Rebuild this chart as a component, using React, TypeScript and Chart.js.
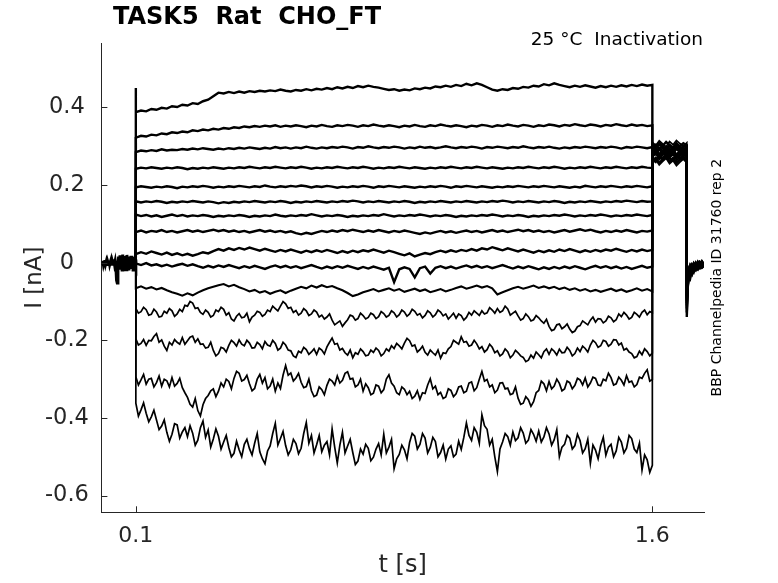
import { useEffect, useRef } from "react"
import { Chart, registerables, type Plugin } from "chart.js"

Chart.register(...registerables)

// sampling grids (s)
const baselineTimes = Array.from({ length: 51 }, (_, i) => i * 0.002)
const stepTimes = Array.from({ length: 101 }, (_, i) => 0.1 + i * 0.015)
const midTimes = Array.from({ length: 100 }, (_, i) => 0.1075 + i * 0.015)
const tailTimes = [1.6, 1.61, 1.62, 1.63, 1.64, 1.65, 1.66, 1.67, 1.68, 1.69, 1.7]
const postTimes = [1.7, 1.703, 1.706, 1.71, 1.715, 1.72, 1.726, 1.732, 1.738, 1.744, 1.75]

const xTicks = [0.1, 1.6]
const yTicks = [-0.6, -0.4, -0.2, 0, 0.2, 0.4]

// all currents in pA
const baseline = [
  2, -3, 5, -6, 1, 7, -4, 3, -8, 4,
  -2, 6, -5, 2, 8, -7, 3, -4, 9, -3,
  5, -9, -45, -52, -12, 16, -14, 19, -17, 13,
  -19, 21, -15, 17, -22, 14, -18, 20, -13, 16,
  -20, 12, -16, 18, -11, 15, -19, 10, -14, 8,
  0,
]

const onsetPeaks = [450, 322, 285, 242, 194, 158, 124, 79, 22, -2, -66, -118, -196, -294, -362]

const sweep1 = [
  388, 392, 390, 396, 394, 399, 397, 403, 401, 407,
  405, 411, 409, 416, 420, 429, 438, 436, 440, 437,
  441, 438, 442, 440, 443, 441, 444, 442, 446, 443,
  441, 445, 443, 447, 444, 448, 446, 450, 447, 452,
  449, 453, 450, 455, 452, 456, 453, 451, 448, 445,
  447, 443, 446, 444, 449, 447, 451, 449, 454, 452,
  456, 453, 458, 455, 461, 457, 462, 458, 452, 446,
  443, 447, 445, 450, 448, 453, 451, 456, 454, 460,
  457, 462, 458, 455, 452, 456, 453, 457, 454, 451,
  455, 452, 456, 453, 457, 454, 458, 455, 459, 456,
  458,
]
const sweep2 = [
  322, 327, 325, 330, 328, 333, 331, 336, 334, 338,
  336, 341, 339, 343, 341, 345, 343, 347, 345, 349,
  347, 351, 349, 352, 350, 353, 351, 354, 350, 353,
  351, 354, 352, 349, 353, 351, 355, 352, 350, 354,
  352, 355, 353, 350, 354, 352, 356, 353, 351, 354,
  352, 349, 353, 351, 355, 352, 350, 354, 352, 356,
  353, 351, 354, 352, 349, 353, 351, 355, 353, 350,
  354, 352, 356, 353, 351, 355, 353, 350, 354, 352,
  356, 354, 351, 355, 353, 357, 354, 352, 356, 354,
  351, 355, 353, 357, 354, 352, 356, 353, 355, 352,
  354,
]
const sweep3 = [
  285, 289, 287, 290, 288, 292, 289, 291, 290, 293,
  291, 294, 292, 295, 293, 291, 294, 292, 295, 293,
  296, 294, 297, 295, 293, 296, 294, 298, 295, 297,
  294, 297, 295, 299, 296, 294, 297, 295, 298, 296,
  299, 297, 294, 298, 296, 300, 297, 295, 298, 296,
  299, 297, 294, 297, 295, 299, 296, 298, 295, 297,
  300, 297, 295, 298, 296, 299, 297, 294, 298, 296,
  299, 297, 295, 298, 296, 300, 297, 295, 298, 296,
  299, 296, 294, 297, 295, 298, 296, 299, 297, 295,
  298, 296, 299, 297, 294, 298, 296, 299, 297, 295,
  298,
]
const sweep4 = [
  242, 245, 243, 246, 244, 242, 245, 243, 246, 244,
  241, 244, 242, 245, 243, 246, 244, 242, 245, 243,
  246, 244, 247, 245, 243, 246, 244, 247, 245, 243,
  246, 244, 247, 245, 242, 245, 243, 246, 244, 247,
  245, 243, 246, 244, 247, 245, 242, 245, 243, 246,
  244, 247, 245, 243, 246, 244, 242, 245, 243, 246,
  244, 247, 245, 243, 246, 244, 247, 245, 243, 246,
  244, 242, 245, 243, 246, 244, 247, 245, 243, 246,
  244, 247, 245, 242, 245, 243, 246, 244, 247, 245,
  243, 246, 244, 247, 245, 243, 246, 244, 247, 245,
  244,
]
const sweep5 = [
  194, 197, 195, 193, 196, 194, 197, 195, 192, 196,
  194, 197, 195, 198, 196, 193, 196, 194, 197, 195,
  198, 196, 194, 197, 195, 199, 196, 194, 197, 195,
  198, 196, 199, 197, 194, 197, 195, 198, 196, 193,
  196, 194, 197, 195, 198, 196, 193, 197, 195, 198,
  196, 194, 197, 195, 193, 196, 194, 197, 195, 198,
  196, 193, 197, 195, 198, 196, 194, 197, 195, 193,
  196, 194, 197, 195, 198, 196, 194, 197, 195, 198,
  196, 194, 197, 195, 193, 196, 194, 198, 196, 194,
  197, 195, 198, 196, 194, 197, 195, 198, 196, 194,
  197,
]
const sweep6 = [
  158, 155, 158, 156, 159, 157, 154, 157, 155, 158,
  156, 159, 157, 155, 158, 156, 153, 156, 154, 157,
  155, 158, 156, 159, 157, 155, 158, 156, 159, 157,
  154, 157, 155, 158, 156, 159, 157, 155, 158, 156,
  159, 157, 160, 158, 155, 158, 156, 159, 157, 155,
  158, 156, 159, 157, 154, 157, 155, 158, 156, 159,
  157, 155, 158, 156, 159, 157, 155, 158, 156, 159,
  157, 160, 158, 155, 158, 156, 159, 157, 155, 158,
  156, 159, 157, 154, 157, 155, 158, 156, 159, 157,
  155, 158, 156, 159, 157, 160, 158, 156, 159, 157,
  158,
]
const sweep7 = [
  124, 120, 123, 119, 122, 118, 121, 124, 120, 123,
  119, 122, 120, 123, 121, 118, 121, 119, 122, 120,
  123, 121, 118, 121, 119, 122, 120, 124, 121, 119,
  122, 120, 123, 121, 125, 122, 119, 122, 120, 123,
  121, 118, 121, 119, 122, 120, 123, 121, 125, 122,
  119, 122, 120, 123, 121, 124, 122, 119, 122, 120,
  123, 121, 118, 121, 119, 122, 120, 123, 121, 124,
  122, 119, 122, 120, 123, 121, 118, 121, 119, 122,
  120, 123, 121, 124, 122, 119, 122, 120, 123, 121,
  124, 122, 119, 122, 120, 123, 121, 124, 122, 120,
  123,
]
const sweep8 = [
  79, 83, 78, 82, 80, 84, 79, 82, 78, 81,
  84, 80, 83, 79, 82, 85, 81, 84, 80, 83,
  79, 82, 78, 81, 84, 80, 83, 79, 82, 78,
  81, 76, 73, 77, 74, 78, 82, 79, 83, 80,
  84, 81, 85, 82, 79, 83, 80, 84, 81, 78,
  82, 79, 83, 80, 77, 74, 78, 75, 79, 82,
  78, 81, 77, 80, 83, 79, 82, 78, 81, 84,
  80, 83, 79, 82, 85, 81, 84, 80, 83, 79,
  82, 78, 81, 84, 80, 83, 86, 82, 85, 81,
  78, 82, 79, 83, 80, 84, 81, 78, 82, 80,
  83,
]
const sweep9 = [
  22, 27, 23, 29, 25, 21, 26, 20, 24, 19,
  23, 18, 22, 27, 24, 30, 35, 31, 37, 33,
  38, 34, 39, 35, 31, 36, 32, 28, 33, 29,
  34, 30, 26, 31, 27, 32, 28, 33, 29, 25,
  30, 26, 31, 27, 32, 29, 34, 30, 26, 31,
  27, 23, 19, 24, 16, 21, 25, 22, 27, 31,
  27, 32, 28, 33, 30, 35, 31, 37, 34, 40,
  36, 32, 37, 33, 29, 34, 30, 26, 31, 27,
  32, 28, 34, 30, 35, 31, 27, 32, 28, 33,
  29, 34, 31, 36, 32, 28, 33, 29, 34, 30,
  33,
]
const sweep10 = [
  -2, -6, -1, -7, -4, -9, -5, -10, -6, -3,
  -8, -4, -9, -13, -8, -12, -7, -11, -6, -10,
  -14, -9, -13, -8, -12, -16, -11, -7, -12, -8,
  -13, -9, -14, -10, -6, -11, -15, -10, -14, -9,
  -13, -8, -12, -16, -11, -15, -10, -14, -18, -13,
  -50, -17, -12, -16, -38, -14, -10, -28, -13, -9,
  -14, -10, -15, -11, -7, -12, -8, -13, -9, -14,
  -10, -6, -11, -15, -10, -14, -9, -13, -17, -12,
  -16, -11, -15, -10, -14, -9, -13, -17, -12, -8,
  -13, -9, -14, -10, -15, -11, -16, -12, -8, -13,
  -10,
]
const sweep11 = [
  -66, -61, -67, -63, -69, -65, -71, -76, -80, -85,
  -79, -84, -77, -71, -66, -62, -58, -55, -61, -57,
  -63, -68, -74, -70, -77, -73, -80, -75, -71, -78,
  -72, -67, -62, -66, -59, -64, -58, -63, -60, -66,
  -71, -78, -86, -82, -76, -72, -68, -74, -70, -66,
  -72, -68, -75, -71, -67, -73, -69, -76, -72, -68,
  -74, -70, -65, -61, -67, -63, -59, -64, -60, -66,
  -82, -76, -71, -66, -62, -67, -63, -59, -65, -61,
  -66, -62, -68, -64, -70, -66, -72, -68, -74, -70,
  -75, -71, -67, -73, -69, -75, -71, -66, -72, -68,
  -74,
]
const sweep12 = [
  -118, -126, -121, -133, -127, -138, -130, -124, -132, -126,
  -112, -104, -116, -133, -128, -136, -126, -120, -129, -150,
  -131, -140, -152, -135, -128, -133, -126, -118, -112, -106,
  -115, -123, -130, -124, -132, -127, -135, -140, -148, -155,
  -164, -147, -138, -144, -136, -141, -134, -139, -131, -136,
  -129, -134, -127, -132, -125, -131, -136, -129, -134, -127,
  -132, -138, -143, -136, -141, -135, -130, -124, -129, -122,
  -118, -124, -119, -130, -137, -144, -139, -147, -142, -156,
  -164, -172, -158, -165, -171, -176, -162, -155, -148, -153,
  -145, -150, -142, -147, -139, -135, -141, -133, -128, -134,
  -129,
]
const sweep13 = [
  -196, -208, -213, -201, -183, -199, -226, -212, -205, -193,
  -201, -189, -196, -209, -218, -226, -234, -221, -213, -206,
  -199, -214, -207, -219, -211, -203, -215, -208, -220, -212,
  -227, -244, -232, -224, -230, -236, -225, -217, -194, -208,
  -221, -238, -245, -236, -229, -238, -231, -226, -234, -228,
  -221, -214, -207, -201, -212, -224, -231, -225, -238, -246,
  -234, -216, -205, -191, -203, -212, -209, -216, -224, -218,
  -227, -235, -229, -238, -232, -244, -251, -246, -237, -229,
  -236, -228, -223, -231, -226, -234, -229, -221, -212, -206,
  -214, -203, -210, -199, -207, -221, -234, -242, -237, -229,
  -233,
]
const sweep14 = [
  -294, -302, -313, -298, -309, -318, -304, -296, -311, -322,
  -347, -372, -381, -366, -342, -325, -331, -320, -306, -298,
  -285, -301, -312, -324, -288, -296, -318, -331, -324, -265,
  -284, -297, -308, -319, -330, -341, -327, -316, -305, -292,
  -303, -281, -298, -315, -331, -322, -336, -318, -327, -289,
  -318, -340, -326, -331, -344, -352, -337, -299, -318, -334,
  -346, -329, -338, -318, -331, -307, -322, -280, -301, -315,
  -328, -309, -323, -337, -349, -362, -353, -358, -329, -312,
  -306, -318, -311, -325, -309, -316, -302, -297, -310, -298,
  -317, -304, -296, -312, -303, -291, -305, -314, -298, -276,
  -301,
]
const sweep15 = [
  -362, -379, -388, -397, -405, -421, -437, -442, -418, -436,
  -448, -439, -457, -408, -431, -454, -447, -462, -476, -491,
  -482, -468, -479, -465, -487, -518, -472, -414, -453, -471,
  -482, -466, -478, -412, -445, -469, -487, -461, -428, -516,
  -437, -472, -489, -511, -493, -478, -501, -466, -442, -475,
  -531, -494, -482, -463, -447, -468, -452, -476, -461, -489,
  -506, -472, -493, -481, -413, -458, -437, -392, -429, -455,
  -538, -462, -448, -436, -451, -439, -457, -442, -434, -449,
  -441, -456, -500, -468, -452, -471, -458, -479, -517, -483,
  -471, -496, -468, -485, -462, -478, -453, -489, -534, -508,
  -522,
]

// extra in-between samples of the four noisiest sweeps
const sweep12Mid = [
  -130, -115, -135, -120, -140, -125, -118, -138, -120, -110,
  -100, -118, -128, -122, -140, -122, -115, -135, -145, -138,
  -142, -130, -140, -125, -138, -122, -112, -124, -100, -118,
  -128, -135, -118, -136, -122, -140, -145, -132, -160, -150,
  -155, -135, -148, -130, -145, -130, -144, -126, -140, -124,
  -140, -122, -138, -120, -135, -142, -124, -140, -122, -137,
  -145, -130, -132, -148, -128, -124, -136, -132, -116, -130,
  -128, -112, -135, -125, -148, -132, -150, -136, -150, -146,
  -175, -160, -170, -158, -180, -165, -150, -160, -140, -144,
  -155, -138, -152, -132, -128, -145, -128, -140, -122, -126,
]
const sweep13Mid = [
  -212, -198, -200, -190, -205, -215, -205, -198, -210, -210,
  -192, -205, -210, -220, -205, -240, -218, -230, -200, -215,
  -210, -200, -220, -205, -222, -212, -200, -225, -205, -225,
  -240, -228, -218, -236, -222, -220, -235, -205, -210, -225,
  -232, -225, -232, -222, -240, -225, -220, -240, -222, -214,
  -208, -222, -195, -215, -230, -215, -238, -232, -225, -232,
  -222, -200, -210, -205, -215, -200, -222, -230, -210, -232,
  -240, -222, -245, -226, -240, -255, -238, -230, -245, -222,
  -222, -238, -232, -218, -240, -220, -215, -230, -200, -218,
  -200, -215, -198, -212, -225, -230, -245, -228, -222, -240,
]
const sweep14Mid = [
  -315, -288, -300, -320, -292, -300, -320, -318, -298, -335,
  -365, -350, -395, -350, -330, -345, -310, -300, -325, -280,
  -305, -290, -330, -300, -310, -325, -300, -310, -290, -290,
  -305, -285, -322, -300, -345, -320, -340, -300, -315, -310,
  -285, -300, -320, -300, -312, -340, -315, -335, -300, -310,
  -335, -320, -340, -350, -330, -335, -315, -325, -340, -350,
  -325, -345, -320, -335, -310, -330, -300, -305, -320, -335,
  -310, -325, -340, -320, -365, -345, -370, -335, -305, -330,
  -325, -300, -330, -305, -325, -298, -315, -320, -295, -315,
  -300, -285, -315, -295, -315, -308, -320, -295, -285, -305,
]
const sweep15Mid = [
  -395, -361, -410, -380, -430, -405, -460, -415, -452, -425,
  -420, -470, -425, -450, -475, -428, -480, -445, -500, -460,
  -500, -455, -495, -440, -505, -485, -440, -470, -435, -495,
  -455, -492, -440, -465, -490, -445, -470, -495, -475, -470,
  -490, -455, -520, -480, -468, -510, -480, -495, -490, -455,
  -505, -470, -505, -440, -480, -440, -490, -450, -500, -470,
  -480, -500, -460, -450, -445, -425, -465, -420, -470, -500,
  -480, -440, -470, -458, -425, -465, -430, -460, -462, -425,
  -470, -430, -475, -445, -480, -442, -490, -455, -470, -505,
  -450, -475, -500, -450, -490, -445, -480, -465, -495, -540,
]

const sweeps = [
  sweep1, sweep2, sweep3, sweep4, sweep5, sweep6, sweep7, sweep8,
  sweep9, sweep10, sweep11, sweep12, sweep13, sweep14, sweep15,
]
const midSweeps: Record<number, number[]> = {
  11: sweep12Mid,
  12: sweep13Mid,
  13: sweep14Mid,
  14: sweep15Mid,
}

// test-pulse tails (1.6 - 1.7 s)
const tailCurrents = [
  [305, 298, 309, 301, 311, 303, 297, 306, 300, 308, 302],
  [296, 304, 292, 300, 295, 303, 290, 298, 293, 301, 296],
  [288, 281, 292, 285, 279, 290, 283, 294, 286, 280, 289],
  [279, 287, 275, 284, 290, 277, 286, 273, 282, 288, 278],
  [271, 264, 276, 268, 281, 270, 263, 275, 267, 279, 272],
  [262, 270, 257, 266, 274, 260, 269, 256, 265, 271, 261],
  [300, 292, 306, 296, 288, 302, 294, 308, 297, 290, 299],
  [284, 293, 279, 289, 297, 283, 291, 278, 288, 295, 285],
  [292, 283, 296, 287, 280, 294, 285, 299, 290, 282, 293],
  [276, 285, 272, 281, 289, 274, 283, 270, 279, 287, 277],
  [268, 259, 273, 264, 277, 262, 270, 258, 267, 275, 263],
  [256, 265, 252, 261, 269, 255, 263, 250, 259, 267, 257],
  [310, 302, 314, 306, 299, 312, 304, 315, 307, 300, 309],
  [286, 278, 291, 283, 275, 288, 280, 293, 284, 277, 287],
  [272, 281, 266, 277, 285, 270, 279, 264, 274, 283, 271],
]

// back to holding (1.7 - 1.75 s)
const postCurrents = [
  [-140, -62, -41, -28, -14, -20, -8, -15, -5, -12, -6],
  [-128, -58, -37, -22, -30, -12, -19, -7, -14, -4, -10],
  [-118, -55, -32, -40, -18, -25, -10, -17, -6, -13, -8],
  [-110, -50, -28, -35, -15, -22, -9, -16, -4, -11, -7],
  [-104, -47, -44, -20, -28, -11, -18, -6, -13, -3, -9],
  [-98, -45, -25, -31, -12, -19, -6, -14, -2, -10, -5],
  [-94, -42, -38, -16, -24, -8, -15, -3, -11, -1, -7],
  [-90, -40, -21, -27, -9, -17, -4, -12, 0, -9, -4],
  [-86, -38, -33, -12, -20, -5, -13, -1, -9, 2, -6],
  [-83, -36, -18, -24, -7, -14, -2, -10, 1, -7, -3],
  [-80, -34, -29, -9, -17, -3, -11, 1, -8, 3, -5],
  [-78, -33, -15, -21, -5, -12, 0, -8, 2, -6, -2],
  [-76, -31, -26, -6, -14, -1, -9, 3, -6, 4, -4],
  [-74, -30, -12, -18, -3, -10, 2, -7, 3, -5, -1],
  [-72, -29, -23, -4, -11, 1, -7, 4, -5, 5, -3],
]

const AXIS_COLOR = "#262626"
const FONT = "'DejaVu Sans', sans-serif"

const toPoints = (times: number[], pA: number[]) =>
  pA.map((v, i) => ({ x: times[i], y: v / 1000 }))

// step samples, with the in-between samples woven in where we have them
const stepPoints = (sweep: number[], mid?: number[]) => {
  const pts: { x: number; y: number }[] = []
  sweep.forEach((v, i) => {
    pts.push({ x: stepTimes[i], y: v / 1000 })
    if (mid && i < mid.length) pts.push({ x: midTimes[i], y: mid[i] / 1000 })
  })
  return pts
}

const decorations: Plugin = {
  id: "decorations",
  afterDraw(chart) {
    const { ctx, chartArea, scales } = chart
    ctx.save()
    // inward tick marks
    ctx.strokeStyle = AXIS_COLOR
    ctx.lineWidth = 1
    ctx.beginPath()
    for (const v of yTicks) {
      const y = Math.round(scales.y.getPixelForValue(v)) + 0.5
      ctx.moveTo(chartArea.left, y)
      ctx.lineTo(chartArea.left + 6, y)
    }
    for (const v of xTicks) {
      const x = Math.round(scales.x.getPixelForValue(v)) + 0.5
      ctx.moveTo(x, chartArea.bottom)
      ctx.lineTo(x, chartArea.bottom - 6)
    }
    ctx.stroke()

    ctx.textBaseline = "middle"
    ctx.fillStyle = "#000"
    ctx.textAlign = "left"
    ctx.font = `bold 24px ${FONT}`
    ctx.fillText("TASK5  Rat  CHO_FT", 113, 18)

    ctx.textAlign = "right"
    ctx.font = `18.5px ${FONT}`
    ctx.fillText("25 °C  Inactivation", 703, 40)

    ctx.fillStyle = AXIS_COLOR
    ctx.textAlign = "center"
    ctx.font = `24px ${FONT}`
    ctx.fillText("t [s]", (chartArea.left + chartArea.right) / 2, 566)

    ctx.save()
    ctx.translate(35, (chartArea.top + chartArea.bottom) / 2)
    ctx.rotate(-Math.PI / 2)
    ctx.font = `23px ${FONT}`
    ctx.fillText("I [nA]", 0, 0)
    ctx.restore()

    ctx.save()
    ctx.fillStyle = "#000"
    ctx.font = `14px ${FONT}`
    ctx.translate(717, (chartArea.top + chartArea.bottom) / 2)
    ctx.rotate(-Math.PI / 2)
    ctx.fillText("BBP Channelpedia ID 31760 rep 2", 0, 0)
    ctx.restore()

    ctx.restore()
  },
}

function CurrentTraces() {
  const canvasRef = useRef<HTMLCanvasElement>(null)

  useEffect(() => {
    if (!canvasRef.current) return

    const traceStyle = {
      borderColor: "#000",
      pointRadius: 0,
      tension: 0,
      fill: false,
    }

    const datasets = [
      { ...traceStyle, borderWidth: 3, data: toPoints(baselineTimes, baseline) },
      ...sweeps.map((sweep, k) => ({
        ...traceStyle,
        borderWidth: midSweeps[k] ? 1.7 : k < 10 ? 2.4 : 2.1,
        data: [
          { x: 0.1, y: 0 },
          { x: 0.1, y: onsetPeaks[k] / 1000 },
          ...stepPoints(sweep, midSweeps[k]),
          ...toPoints(tailTimes, tailCurrents[k]),
          ...toPoints(postTimes, postCurrents[k]),
        ],
      })),
    ]

    const chart = new Chart(canvasRef.current, {
      type: "line",
      data: { datasets },
      options: {
        animation: false,
        responsive: true,
        maintainAspectRatio: false,
        layout: { padding: { left: 0, right: 74, top: 43, bottom: 0 } },
        plugins: {
          legend: { display: false },
          tooltip: { enabled: false },
        },
        scales: {
          x: {
            type: "linear",
            min: 0,
            max: 1.75,
            afterBuildTicks: (scale) => {
              scale.ticks = xTicks.map((value) => ({ value }))
            },
            afterFit: (scale) => {
              scale.height = 70.7
            },
            grid: { display: false, drawTicks: false },
            border: { display: true, color: AXIS_COLOR, width: 1 },
            ticks: {
              padding: 11,
              color: AXIS_COLOR,
              font: { family: FONT, size: 22 },
              maxRotation: 0,
              callback: (v) => String(v),
            },
          },
          y: {
            type: "linear",
            min: -0.643,
            max: 0.566,
            afterBuildTicks: (scale) => {
              scale.ticks = yTicks.map((value) => ({ value }))
            },
            afterFit: (scale) => {
              scale.width = 101.4
            },
            grid: { display: false, drawTicks: false },
            border: { display: true, color: AXIS_COLOR, width: 1 },
            ticks: {
              padding: 12.5,
              crossAlign: "center",
              color: AXIS_COLOR,
              font: { family: FONT, size: 22.5 },
              callback: (v) => String(Math.round(Number(v) * 10) / 10),
            },
          },
        },
      },
      plugins: [decorations],
    })

    return () => chart.destroy()
  }, [])

  return <canvas ref={canvasRef} />
}

export default function App() {
  return (
    <div style={{ position: "absolute", left: 0, top: 0, width: 778, height: 583, background: "#fff" }}>
      <CurrentTraces />
    </div>
  )
}
